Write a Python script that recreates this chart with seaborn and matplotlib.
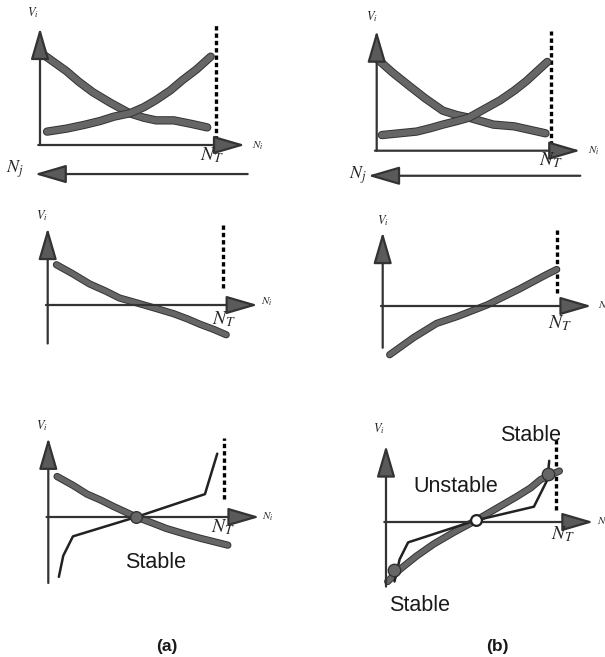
import numpy as np
import seaborn as sns
import matplotlib.pyplot as plt

sns.set_style("white")
plt.rcParams["mathtext.fontset"] = "stix"

W, H = 605, 657

# panel placement in pixels: origin x, origin y, pixels per unit (N_T = 1)
panel_a1 = (40, 145, 176)
panel_b1 = (376.7, 150.7, 174)
panel_a2 = (47.7, 305, 175)
panel_b2 = (382.7, 306, 174)
panel_a3 = (48.3, 517, 176)
panel_b3 = (386, 522, 170)

# curves, x in units of N_T, y = V_i
a1_dec_x = [0.01, 0.08, 0.15, 0.22, 0.30, 0.40, 0.51, 0.59, 0.66, 0.76, 0.86, 0.95]
a1_dec_y = [0.52, 0.47, 0.42, 0.36, 0.30, 0.24, 0.18, 0.155, 0.14, 0.14, 0.12, 0.10]
a1_inc_x = [0.04, 0.15, 0.25, 0.34, 0.42, 0.51, 0.59, 0.66, 0.74, 0.81, 0.89, 0.97]
a1_inc_y = [0.076, 0.093, 0.114, 0.136, 0.161, 0.18, 0.215, 0.256, 0.31, 0.369, 0.43, 0.502]

b1_dec_x = [0.00, 0.09, 0.19, 0.28, 0.38, 0.46, 0.53, 0.60, 0.67, 0.79, 0.88, 0.97]
b1_dec_y = [0.53, 0.45, 0.37, 0.30, 0.23, 0.205, 0.19, 0.17, 0.15, 0.14, 0.12, 0.10]
b1_inc_x = [0.03, 0.13, 0.23, 0.31, 0.38, 0.46, 0.53, 0.62, 0.71, 0.79, 0.86, 0.98]
b1_inc_y = [0.09, 0.10, 0.11, 0.13, 0.15, 0.17, 0.19, 0.24, 0.29, 0.345, 0.40, 0.51]

a2_x = [0.05, 0.14, 0.24, 0.33, 0.41, 0.53, 0.62, 0.72, 0.80, 0.87, 0.95, 1.02]
a2_y = [0.23, 0.18, 0.12, 0.08, 0.04, 0.006, -0.02, -0.05, -0.08, -0.11, -0.14, -0.17]

b2_x = [0.04, 0.18, 0.31, 0.43, 0.60, 0.79, 0.94, 1.0]
b2_y = [-0.28, -0.18, -0.10, -0.06, 0.006, 0.10, 0.18, 0.21]

a3_thick_x = [0.05, 0.14, 0.22, 0.30, 0.37, 0.50, 0.58, 0.67, 0.77, 0.86, 0.94, 1.02]
a3_thick_y = [0.23, 0.18, 0.13, 0.095, 0.06, 0.00, -0.03, -0.065, -0.095, -0.12, -0.14, -0.16]
a3_thin_x = [0.06, 0.085, 0.14, 0.50, 0.89, 0.96]
a3_thin_y = [-0.34, -0.22, -0.11, 0.00, 0.13, 0.36]

b3_thick_x = [0.01, 0.08, 0.18, 0.28, 0.40, 0.53, 0.65, 0.77, 0.85, 0.91, 1.02]
b3_thick_y = [-0.35, -0.28, -0.20, -0.13, -0.06, 0.01, 0.08, 0.15, 0.20, 0.25, 0.30]
b3_thin_x = [0.05, 0.08, 0.13, 0.53, 0.87, 0.95, 0.96]
b3_thin_y = [-0.35, -0.22, -0.12, 0.01, 0.09, 0.25, 0.36]

stable_pts_x = [0.05, 0.95]
stable_pts_y = [-0.28, 0.28]

XLIM = (-0.25, 1.35)
YLIM = (-0.55, 0.85)

AX_COL = "#333333"
HEAD_COL = "#5a5a5a"
FILL_COL = "#666666"


def make_panel(fig, p):
    ox, oy, u = p
    left = (ox + XLIM[0] * u) / W
    width = (XLIM[1] - XLIM[0]) * u / W
    bottom = 1 - (oy - YLIM[0] * u) / H
    height = (YLIM[1] - YLIM[0]) * u / H
    ax = fig.add_axes([left, bottom, width, height])
    ax.set_xlim(*XLIM)
    ax.set_ylim(*YLIM)
    ax.axis("off")
    return ax


def arrow(ax, start, tip):
    ax.annotate("", xy=tip, xytext=start,
                arrowprops=dict(arrowstyle="-|>,head_length=1.3,head_width=0.38",
                                mutation_scale=15, lw=1.6, ec=AX_COL, fc=HEAD_COL,
                                shrinkA=0, shrinkB=0))


def axes_arrows(ax, ybot, ytop, xtip):
    arrow(ax, (0, ybot), (0, ytop))
    arrow(ax, (-0.01, 0), (xtip, 0))


def dashed(ax, y0, y1):
    ax.plot([1, 1], [y0, y1], color="black", lw=2.4, dashes=(1.3, 0.9), solid_capstyle="butt")


def thick(ax, x, y, w=4.6):
    sns.lineplot(x=x, y=y, sort=False, estimator=None, color="#333333", lw=w + 1.4, ax=ax)
    sns.lineplot(x=x, y=y, sort=False, estimator=None, color=FILL_COL, lw=w, ax=ax)


def thin(ax, x, y):
    sns.lineplot(x=x, y=y, sort=False, estimator=None, color="#222222", lw=1.8, ax=ax)


def lbl(ax, x, y, s, size, **kw):
    ax.text(x, y, s, fontsize=size, ha="center", va="center", **kw)


fig = plt.figure(figsize=(W / 100, H / 100), dpi=100)

# (a) top
ax = make_panel(fig, panel_a1)
axes_arrows(ax, 0, 0.665, 1.165)
dashed(ax, 0.03, 0.69)
thick(ax, a1_dec_x, a1_dec_y)
thick(ax, a1_inc_x, a1_inc_y)
arrow(ax, (1.18, -0.165), (-0.03, -0.165))
lbl(ax, -0.04, 0.755, "$V_i$", 9)
lbl(ax, 1.24, -0.005, "$N_i$", 8)
lbl(ax, 0.98, -0.06, "$N_T$", 14)
lbl(ax, -0.14, -0.14, "$N_j$", 13)

# (b) top
ax = make_panel(fig, panel_b1)
axes_arrows(ax, 0, 0.69, 1.17)
dashed(ax, 0.03, 0.69)
thick(ax, b1_dec_x, b1_dec_y)
thick(ax, b1_inc_x, b1_inc_y)
arrow(ax, (1.17, -0.144), (-0.05, -0.144))
lbl(ax, -0.03, 0.77, "$V_i$", 9)
lbl(ax, 1.25, 0.0, "$N_i$", 8)
lbl(ax, 1.0, -0.055, "$N_T$", 14)
lbl(ax, -0.11, -0.14, "$N_j$", 13)

# (a) middle
ax = make_panel(fig, panel_a2)
axes_arrows(ax, -0.22, 0.44, 1.20)
dashed(ax, 0.10, 0.47)
thick(ax, a2_x, a2_y, w=3.8)
lbl(ax, -0.03, 0.51, "$V_i$", 9)
lbl(ax, 1.25, 0.02, "$N_i$", 8)
lbl(ax, 1.01, -0.08, "$N_T$", 14)

# (b) middle
ax = make_panel(fig, panel_b2)
axes_arrows(ax, -0.24, 0.425, 1.20)
dashed(ax, 0.075, 0.44)
thick(ax, b2_x, b2_y, w=3.8)
lbl(ax, 0.0, 0.49, "$V_i$", 9)
ax.text(1.24, 0.0, "$N_i$", fontsize=8, ha="left", va="center")
lbl(ax, 1.02, -0.10, "$N_T$", 14)

# (a) bottom
ax = make_panel(fig, panel_a3)
axes_arrows(ax, -0.375, 0.45, 1.20)
dashed(ax, 0.10, 0.45)
thick(ax, a3_thick_x, a3_thick_y, w=3.8)
thin(ax, a3_thin_x, a3_thin_y)
sns.scatterplot(x=[0.5], y=[0.0], s=70, color=FILL_COL, edgecolor="#333333", linewidth=1, zorder=5, ax=ax)
lbl(ax, -0.035, 0.52, "$V_i$", 9)
lbl(ax, 1.25, 0.0, "$N_i$", 8)
lbl(ax, 0.99, -0.06, "$N_T$", 14)
lbl(ax, 0.61, -0.26, "Stable", 15.5, family="Liberation Sans", color="#1a1a1a")

# (b) bottom
ax = make_panel(fig, panel_b3)
axes_arrows(ax, -0.38, 0.45, 1.22)
dashed(ax, 0.07, 0.49)
thick(ax, b3_thick_x, b3_thick_y, w=3.8)
thin(ax, b3_thin_x, b3_thin_y)
sns.scatterplot(x=stable_pts_x, y=stable_pts_y, s=80, color=FILL_COL, edgecolor="#333333",
                linewidth=1, zorder=5, ax=ax)
sns.scatterplot(x=[0.53], y=[0.01], s=60, color="white", edgecolor="#222222",
                linewidth=1.6, zorder=6, ax=ax)
lbl(ax, -0.04, 0.55, "$V_i$", 9)
ax.text(1.24, 0.0, "$N_i$", fontsize=8, ha="left", va="center")
lbl(ax, 1.04, -0.07, "$N_T$", 14)
lbl(ax, 0.85, 0.51, "Stable", 15.5, family="Liberation Sans", color="#1a1a1a")
lbl(ax, 0.41, 0.21, "Unstable", 15.5, family="Liberation Sans", color="#1a1a1a")
lbl(ax, 0.20, -0.49, "Stable", 15.5, family="Liberation Sans", color="#1a1a1a")

fig.text(167 / W, 1 - 647 / H, "(a)", fontsize=12.5, fontweight="bold",
         family="Liberation Sans", ha="center", va="center", color="#1a1a1a")
fig.text(497 / W, 1 - 647 / H, "(b)", fontsize=12.5, fontweight="bold",
         family="Liberation Sans", ha="center", va="center", color="#1a1a1a")

fig.savefig("out.png", dpi=100)
